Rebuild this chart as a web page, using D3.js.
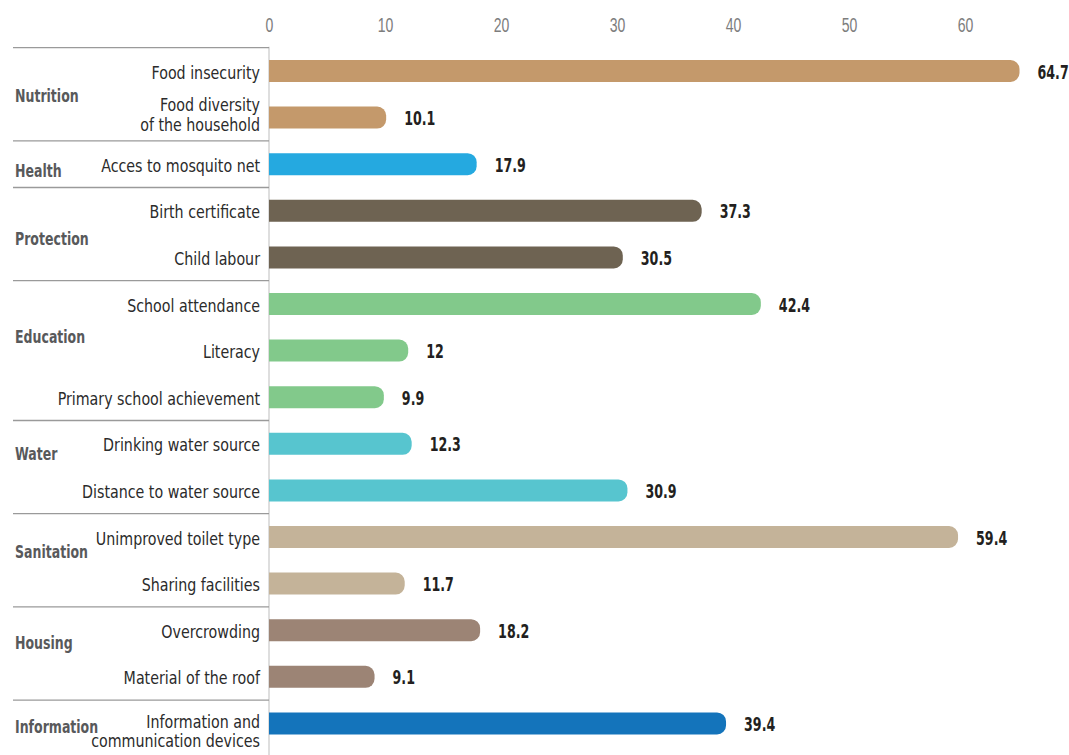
<!DOCTYPE html>
<html>
<head>
<meta charset="utf-8">
<script src="https://cdn.jsdelivr.net/npm/d3@7"></script>
<style>
  html, body { margin: 0; padding: 0; background: #fff; }
  svg { display: block; font-family: "DejaVu Sans Condensed", "DejaVu Sans", sans-serif; }
</style>
</head>
<body>
<svg id="chart" width="1069" height="755"></svg>
<script>
// Deprivation indicators, grouped by dimension (% of children)
const groups = ["Nutrition", "Health", "Protection", "Education", "Water", "Sanitation", "Housing", "Information"];
const groupColors = ["#C4996B", "#25A9E0", "#6E6352", "#82C98B", "#57C5CF", "#C4B399", "#9C8475", "#1474BB"];
const indicators = [
  "Food insecurity", "Food diversity\nof the household", "Acces to mosquito net",
  "Birth certificate", "Child labour",
  "School attendance", "Literacy", "Primary school achievement",
  "Drinking water source", "Distance to water source",
  "Unimproved toilet type", "Sharing facilities",
  "Overcrowding", "Material of the roof",
  "Information and\ncommunication devices"
];
const indicatorGroup = [
  "Nutrition", "Nutrition", "Health",
  "Protection", "Protection",
  "Education", "Education", "Education",
  "Water", "Water",
  "Sanitation", "Sanitation",
  "Housing", "Housing",
  "Information"
];
const values = [64.7, 10.1, 17.9, 37.3, 30.5, 42.4, 12, 9.9, 12.3, 30.9, 59.4, 11.7, 18.2, 9.1, 39.4];
const valueLabels = ["64.7", "10.1", "17.9", "37.3", "30.5", "42.4", "12", "9.9", "12.3", "30.9", "59.4", "11.7", "18.2", "9.1", "39.4"];
const xTicks = [0, 10, 20, 30, 40, 50, 60];

const svg = d3.select("#chart");
const W = 1069, H = 755;

const x = d3.scaleLinear().domain([0, 60]).range([269, 965]);
const rowStep = 46.6, plotTop = 47.7;
const y = d3.scaleBand()
  .domain(indicators)
  .range([plotTop, plotTop + rowStep * indicators.length])
  .paddingInner(0.528)
  .paddingOuter(0.264);
const bh = y.bandwidth();
const mid = d => y(d) + bh / 2;

const color = d3.scaleOrdinal().domain(groups).range(groupColors);

// condensed type: the installed face is narrowed horizontally
const narrow = (tx, ty, sx) => `translate(${tx},${ty}) scale(${sx},1)`;

// top axis, labels only
const axis = svg.append("g")
  .attr("transform", "translate(0,32)")
  .call(d3.axisTop(x).tickValues(xTicks).tickSize(0).tickPadding(0).tickFormat(d3.format("d")));
axis.select(".domain").remove();
axis.selectAll("text")
  .attr("fill", "#7d7d7d")
  .attr("font-size", 19.5)
  .attr("font-weight", 300)
  .attr("y", 0)
  .attr("dy", 0)
  .attr("transform", "scale(0.72,1)")
  .style("font-family", "inherit");

// vertical baseline
svg.append("line")
  .attr("x1", x(0)).attr("x2", x(0))
  .attr("y1", plotTop - 1).attr("y2", H)
  .attr("stroke", "#c8c8c8").attr("stroke-width", 1.2);

// group separators
const groupStarts = groups.map(g => indicatorGroup.indexOf(g));
svg.append("g").selectAll("line")
  .data(groupStarts)
  .join("line")
  .attr("x1", 13).attr("x2", x(0))
  .attr("y1", i => plotTop + i * rowStep)
  .attr("y2", i => plotTop + i * rowStep)
  .attr("stroke", "#9a9a9a").attr("stroke-width", 1.3);

// group labels: baseline set from the mean row position, with a small hand nudge
const groupNudge = { Nutrition: 7.5, Health: 12.5, Protection: 11, Education: -8, Water: -7, Sanitation: -2, Housing: -5, Information: 9.5 };
svg.append("g").selectAll("text")
  .data(groups)
  .join("text")
  .attr("transform", g => {
    const rows = indicators.filter((d, i) => indicatorGroup[i] === g);
    return narrow(15, d3.mean(rows, mid) + groupNudge[g], 0.82);
  })
  .attr("font-size", 17)
  .attr("font-weight", "bold")
  .attr("fill", "#58595B")
  .text(g => g);

// indicator labels (right-aligned against the axis)
const labelShift = { "Information and\ncommunication devices": 11 };
svg.append("g").selectAll("text")
  .data(indicators)
  .join("text")
  .attr("text-anchor", "end")
  .attr("font-size", 18)
  .attr("fill", "#2b2b2b")
  .attr("transform", d => narrow(260, mid(d) + (labelShift[d] || 0), 0.88))
  .each(function (d) {
    const lines = d.split("\n");
    const t = d3.select(this);
    lines.forEach((ln, k) => {
      t.append("tspan")
        .attr("x", 0)
        .attr("y", lines.length === 1 ? 7.5 : (k === 0 ? -6.5 : 13))
        .text(ln);
    });
  });

// bars with a rounded right end
const r = 9;
function barPath(v, y0) {
  const x0 = x(0), x1 = x(v);
  return `M${x0},${y0}H${x1 - r}A${r},${r} 0 0 1 ${x1},${y0 + r}V${y0 + bh - r}A${r},${r} 0 0 1 ${x1 - r},${y0 + bh}H${x0}Z`;
}
svg.append("g").selectAll("path")
  .data(indicators)
  .join("path")
  .attr("d", (d, i) => barPath(values[i], y(d)))
  .attr("fill", (d, i) => color(indicatorGroup[i]));

// value labels
svg.append("g").selectAll("text")
  .data(indicators)
  .join("text")
  .attr("transform", (d, i) => narrow(x(values[i]) + 18, mid(d) + 7.5, 0.74))
  .attr("font-size", 19)
  .attr("font-weight", "bold")
  .attr("fill", "#231F20")
  .text((d, i) => valueLabels[i]);
</script>
</body>
</html>
